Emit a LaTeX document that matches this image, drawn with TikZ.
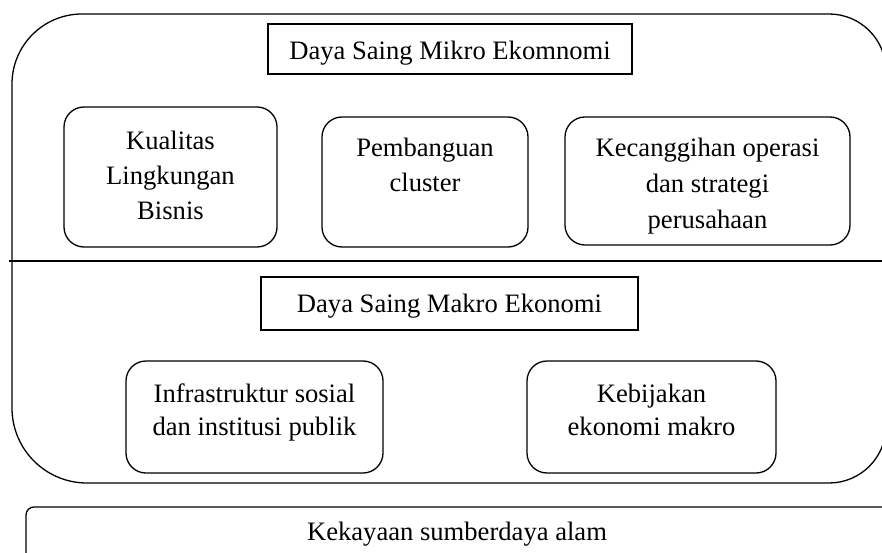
\documentclass[tikz,border=0pt]{standalone}
\usepackage{fontspec}
\setmainfont{Liberation Serif}
\begin{document}
\begin{tikzpicture}[x=1pt,y=1pt,
  ln/.style={line width=1.3pt},
  rbox/.style={draw, line width=1.3pt, rounded corners=20pt, inner sep=0pt},
  sbox/.style={draw, line width=1.3pt, inner sep=0pt},
  txt/.style={anchor=base, align=center, inner sep=0pt, font=\fontsize{26.6}{#1}\selectfont},
  txt/.default=35]
\useasboundingbox (0,0) rectangle (882,-553);
\clip (0,0) rectangle (882,-553);
% outer frame
\draw[ln] (82,-14) -- (829,-14) arc[start angle=90,end angle=0,radius=57pt]
  -- (886,-426) arc[start angle=0,end angle=-90,radius=57pt]
  -- (87,-483) arc[start angle=270,end angle=180,radius=75pt]
  -- (12,-84) arc[start angle=180,end angle=90,radius=70pt] -- cycle;
% divider
\coordinate (dl) at (9,-261);
\coordinate (dr) at (884,-261);
\draw[ln] (dl) -- (dr);
% bottom box
\draw[ln] (26,-560) -- (26,-515) arc[start angle=180,end angle=90,radius=8pt] -- (890,-507);
% boxes
\node[sbox, minimum width=364pt, minimum height=50pt] (mik) at (450,-49) {};
\node[rbox, minimum width=213pt, minimum height=140pt] (kual) at (170.5,-177) {};
\node[rbox, minimum width=206pt, minimum height=130pt] (pemb) at (425,-182) {};
\node[rbox, minimum width=285pt, minimum height=128pt] (kec) at (707.5,-181) {};
\node[sbox, minimum width=377pt, minimum height=53pt] (mak) at (449.5,-303.5) {};
\node[rbox, minimum width=257pt, minimum height=112pt] (infra) at (254.5,-417) {};
\node[rbox, minimum width=249pt, minimum height=112pt] (kebi) at (651.5,-417) {};
% texts (base anchor = last line's baseline)
\node[txt] (mikt) at (450,-60) {Daya Saing Mikro Ekomnomi};
\node[txt] (kualt) at (170.5,-219) {Kualitas\\Lingkungan\\Bisnis};
\node[txt] (pembt) at (425,-192) {Pembanguan\\cluster};
\node[txt=35.5] (kect) at (707.5,-228) {Kecanggihan operasi\\dan strategi\\perusahaan};
\node[txt] (makt) at (449.5,-312) {Daya Saing Makro Ekonomi};
\node[txt=33] (infrat) at (254.5,-435) {Infrastruktur sosial\\dan institusi publik};
\node[txt=33] (kebit) at (651.5,-435) {Kebijakan\\ekonomi makro};
\node[txt] (kekt) at (457,-540) {Kekayaan sumberdaya alam};
\end{tikzpicture}
\end{document}
